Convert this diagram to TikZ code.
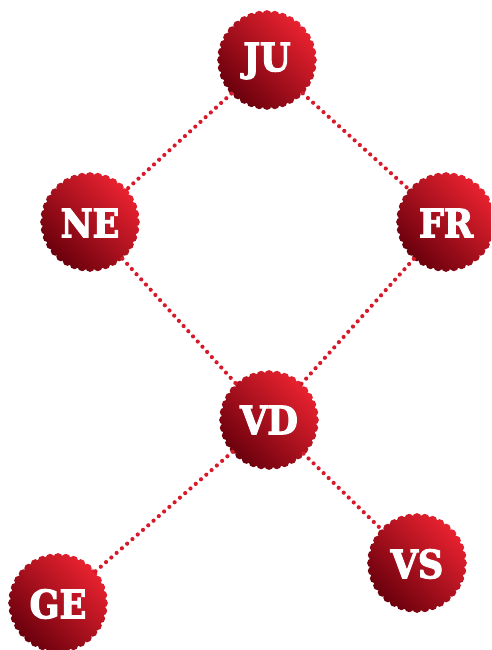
\documentclass[tikz,border=0pt]{standalone}
\usepackage{fontspec}
\setmainfont{DejaVu Serif Condensed}[BoldFeatures={FakeBold=3}]
\definecolor{sealhi}{RGB}{234,34,48}
\definecolor{seallo}{RGB}{105,0,12}
\definecolor{dotred}{RGB}{214,26,42}
\tikzset{
  sealtext/.style={circle, minimum size=96pt, inner sep=0pt, text=white,
    font=\bfseries\fontsize{39}{39}\selectfont},
  dotline/.style={dotred, line width=4.2pt, line cap=round, dash pattern=on 0pt off 7pt},
  sealfill/.style={top color=sealhi, bottom color=seallo, shading angle=-45}
}
\newcommand\sealshape[2]{%
  \begin{scope}[shift={(#1,#2)}]
    \shade[sealfill] (0,0) circle[radius=46.5]
      \foreach \a in {0,10,...,350}{ (\a:45.3) circle[radius=4.6] };
  \end{scope}}
\begin{document}
\begin{tikzpicture}[x=1pt,y=-1pt]
  \useasboundingbox (0,0) rectangle (491,650);
  \clip (0,0) rectangle (491,650);
  \sealshape{267}{60}
  \sealshape{90}{222}
  \sealshape{446}{222}
  \sealshape{269}{420}
  \sealshape{417}{563}
  \sealshape{58}{603}
  \node[sealtext] (ju) at (267,61) {JU};
  \node[sealtext] (ne) at (90,223) {NE};
  \node[sealtext] (fr) at (446,223) {FR};
  \node[sealtext] (vd) at (269,420) {VD};
  \node[sealtext] (vs) at (417,564) {VS};
  \node[sealtext] (ge) at (58,604) {GE};
  \draw[dotline] (ju) -- (ne);
  \draw[dotline] (ju) -- (fr);
  \draw[dotline] (ne) -- (vd);
  \draw[dotline] (fr) -- (vd);
  \draw[dotline] (vd) -- (ge);
  \draw[dotline] (vd) -- (vs);
\end{tikzpicture}
\end{document}
